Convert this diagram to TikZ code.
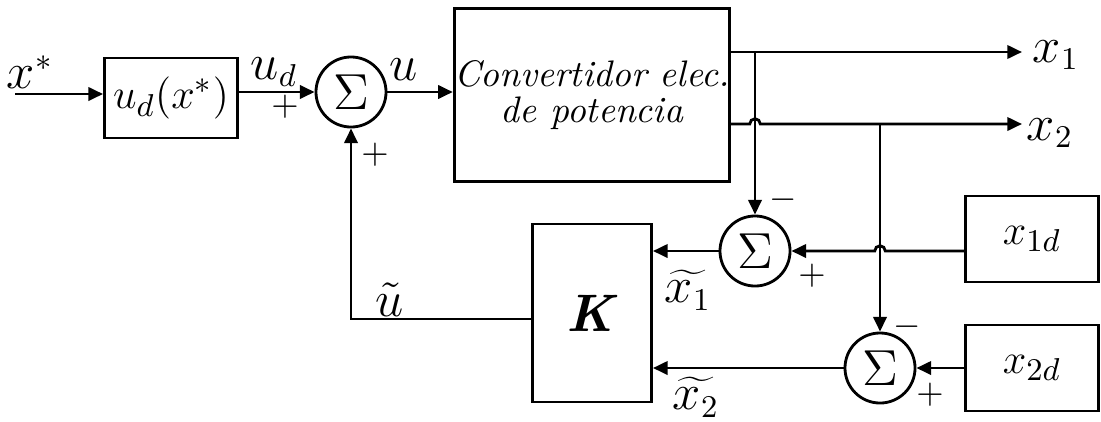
\documentclass[tikz,border=0pt]{standalone}
\usepackage{tikz}
\usetikzlibrary{arrows.meta,calc}

\begin{document}
\begin{tikzpicture}[x=0.01cm,y=-0.01cm,
  bloque/.style={draw, line width=0.8pt, inner sep=0pt, font=\fontsize{13}{15}\selectfont},
  suma/.style={draw, circle, line width=0.8pt, minimum size=0.70cm, inner sep=0pt, font=\fontsize{15}{17}\selectfont},
  flecha/.style={line width=0.8pt, -{Triangle[length=4.2pt,width=3.8pt]}},
  linea/.style={line width=0.8pt},
  etiq/.style={font=\fontsize{13.5}{15}\selectfont, inner sep=1pt},
  signo/.style={font=\fontsize{10}{12}\selectfont, inner sep=0pt}]

% Margenes del dibujo
\useasboundingbox (0,0) rectangle (1101,421);

% Radio del salto en los cruces
\def\rs{1.5pt}

% Bloques
\node[bloque, minimum width=1.33cm, minimum height=0.80cm] (ud) at (171,98) {$u_d(x^*)$};
\node[bloque, minimum width=2.66cm, minimum height=1.73cm, align=center,
      font=\fontsize{10.5}{10}\selectfont\itshape] (conv) at (592,95) {Convertidor elec.\\de potencia};
\node[bloque, minimum width=1.19cm, minimum height=1.78cm, font=\fontsize{15}{18}\selectfont] (K) at (592,313) {\textbf{\textit{K}}};
\node[bloque, minimum width=1.33cm, minimum height=0.86cm] (x1d) at (1032,239) {$x_{1d}$};
\node[bloque, minimum width=1.33cm, minimum height=0.86cm] (x2d) at (1032,368) {$x_{2d}$};

% Sumadores
\node[suma] (s1) at (351,92) {$\Sigma$};
\node[suma] (s2) at (755,251) {$\Sigma$};
\node[suma] (s3) at (880,368) {$\Sigma$};

% Puntos auxiliares
\coordinate (ent) at (15,94);
\coordinate (sal1) at (1022,52);
\coordinate (sal2) at (1022,124);
\coordinate (r1) at (755,52);
\coordinate (r2) at (880,124);
\coordinate (ret) at (351,319);

% Camino directo
\draw[flecha] (ent) -- (ent -| ud.west);
\draw[flecha] (ud.east |- s1) -- (s1);
\draw[flecha] (s1) -- (s1 -| conv.west);

% Salidas (x2 salta sobre la derivacion de x1)
\draw[flecha] (conv.east |- sal1) -- (sal1);
\draw[flecha] (conv.east |- sal2) -- ($(sal2 -| r1)+(-\rs,0)$)
  arc[start angle=180,end angle=0,radius=\rs] -- (sal2);

% Derivaciones hacia los sumadores
\draw[flecha] (r1) -- (s2);
\draw[flecha] (r2) -- (s3);

% Referencias
\draw[flecha] (x1d.west |- s2) -- ($(s2 -| r2)+(\rs,0)$)
  arc[start angle=0,end angle=180,radius=\rs] -- (s2);
\draw[flecha] (x2d.west |- s3) -- (s3);

% Errores hacia K y realimentacion
\draw[flecha] (s2) -- (s2 -| K.east);
\draw[flecha] (s3) -- (s3 -| K.east);
\draw[flecha] (K.west |- ret) -- (ret) -- (s1);

% Etiquetas
\node[etiq] (lxs) at (30,72) {$x^*$};
\node[etiq] (lud) at (274,72) {$u_d$};
\node[etiq] (lu) at (404,70) {$u$};
\node[etiq] (lut) at (390,300) {$\tilde{u}$};
\node[etiq] (le1) at (688,290) {$\widetilde{x_1}$};
\node[etiq] (le2) at (696,397) {$\widetilde{x_2}$};
\node[etiq] (lx1) at (1056,55) {$x_1$};
\node[etiq] (lx2) at (1050,133) {$x_2$};

% Signos
\node[signo] (p1) at (285,107) {$+$};
\node[signo] (p2) at (375,155) {$+$};
\node[signo] (m2) at (783,200) {$-$};
\node[signo] (p3) at (812,276) {$+$};
\node[signo] (m3) at (907,327) {$-$};
\node[signo] (p4) at (930,395) {$+$};

\end{tikzpicture}
\end{document}
